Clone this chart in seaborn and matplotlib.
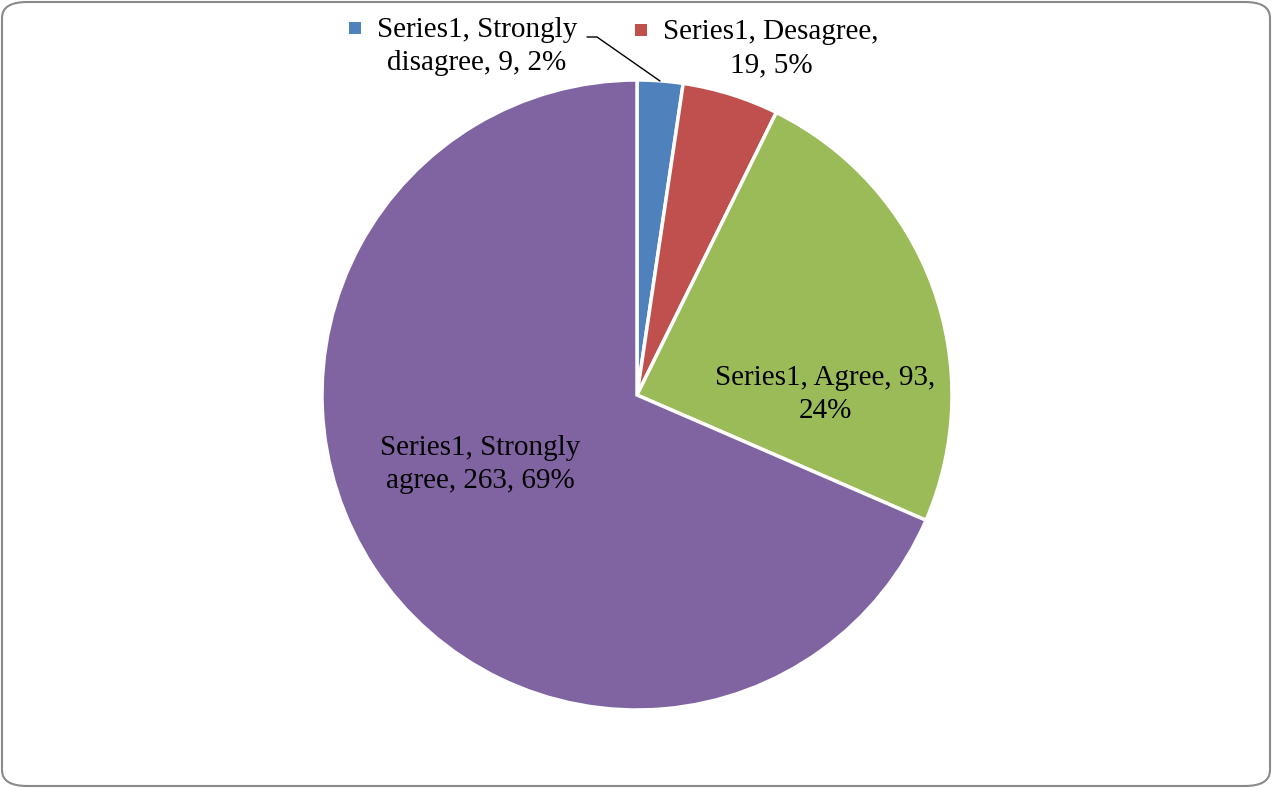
import matplotlib
matplotlib.use("Agg")
import matplotlib.pyplot as plt
from matplotlib.patches import FancyBboxPatch, Rectangle
import seaborn as sns

series_name = "Series1"
categories = ["Strongly disagree", "Desagree", "Agree", "Strongly agree"]
values = [9, 19, 93, 263]
percents = [2, 5, 24, 69]
colors = ["#4F81BD", "#C0504D", "#9BBB59", "#8064A2"]

sns.set_theme(style="white")
plt.rcParams["font.family"] = ["Liberation Serif", "DejaVu Serif"]

W, H = 1272, 788
fig = plt.figure(figsize=(W / 100, H / 100), dpi=100)
ax = fig.add_axes([0, 0, 1, 1])

cx, cy, r = 637, H - 395, 315
ax.pie(values, colors=colors, startangle=90, counterclock=False,
       center=(cx, cy), radius=r, frame=True,
       wedgeprops=dict(edgecolor="white", linewidth=2.5))
ax.set_xlim(0, W)
ax.set_ylim(0, H)
ax.set_aspect("equal")
ax.axis("off")

full = [f"{series_name}, {c}, {v}, {p}%" for c, v, p in zip(categories, values, percents)]

def split_label(s, n_words):
    parts = s.split(" ")
    return " ".join(parts[:n_words]) + "\n" + " ".join(parts[n_words:])

# label layout: (words on first line, x centre, y centre of first line, key square)
layout = [
    (2, 477, 30, True),
    (2, 771, 32, True),
    (3, 825, 378, False),
    (2, 480, 448, False),
]
fs = 21
gap = 33
fig.canvas.draw()
for i, (nw, x, y, key) in enumerate(layout):
    l1, l2 = split_label(full[i], nw).split("\n")
    t1 = ax.text(x, H - y, l1, ha="center", va="center", fontsize=fs, color="black")
    ax.text(x, H - y - gap, l2, ha="center", va="center", fontsize=fs, color="black")
    if key:
        bb = t1.get_window_extent(renderer=fig.canvas.get_renderer())
        ax.add_patch(Rectangle((bb.x0 - 28, H - y - 4), 12, 12,
                               facecolor=colors[i], edgecolor="none"))

# leader line for the first label
ax.plot([587, 597, 660], [H - 37, H - 37, H - 81], color="black", lw=1)

# rounded border
border = FancyBboxPatch((2 / W, 2 / H), 1 - 4 / W, 1 - 4 / H,
                        boxstyle="round,pad=0,rounding_size=0.02",
                        transform=fig.transFigure, facecolor="none",
                        edgecolor="#8a8a8a", linewidth=1.5)
fig.patches.append(border)

fig.savefig("out.png", dpi=100, facecolor="white")
